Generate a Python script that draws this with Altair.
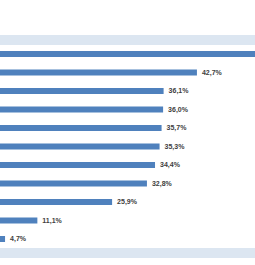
import altair as alt
import pandas as pd

categories = ["A", "B", "C", "D", "E", "F", "G", "H", "I", "J", "K"]
values = [60.0, 42.7, 36.1, 36.0, 35.7, 35.3, 34.4, 32.8, 25.9, 11.1, 4.7]
labels = ["", "42,7%", "36,1%", "36,0%", "35,7%", "35,3%", "34,4%", "32,8%", "25,9%", "11,1%", "4,7%"]

df = pd.DataFrame({"cat": categories, "val": values, "label": labels})

W, H = 255, 265

xscale = alt.Scale(domain=[3.7, 54.2], range=[0, W], zero=False, nice=False, clamp=False)
yscale = alt.Scale(domain=categories, range=[44.75, 248.25], paddingInner=0.676, paddingOuter=0.338)

base = alt.Chart(df)

bars = base.mark_bar(color="#4f81bd", clip=True).encode(
    x=alt.X("val:Q", scale=xscale, axis=None),
    x2=alt.datum(0),
    y=alt.Y("cat:N", scale=yscale, axis=None),
)

text = base.mark_text(
    align="left", baseline="middle", dx=5, fontSize=7, fontWeight="bold",
    color="#404040", font="Liberation Sans", clip=True,
).encode(
    x=alt.X("val:Q", scale=xscale, axis=None),
    y=alt.Y("cat:N", scale=yscale, axis=None),
    text="label:N",
)

band_top = alt.Chart(pd.DataFrame({"k": [0]})).mark_rect(color="#dce6f1").encode(
    x=alt.value(0), x2=alt.value(W), y=alt.value(35), y2=alt.value(45)
)
band_bot = alt.Chart(pd.DataFrame({"k": [0]})).mark_rect(color="#dce6f1").encode(
    x=alt.value(0), x2=alt.value(W), y=alt.value(248), y2=alt.value(258)
)

chart = alt.layer(band_top, band_bot, bars, text).properties(
    width=W, height=H, padding=0, autosize=alt.AutoSizeParams(type="none")
).configure_view(stroke=None)

chart.save("out.html", embed_options={"renderer": "svg", "actions": False})
